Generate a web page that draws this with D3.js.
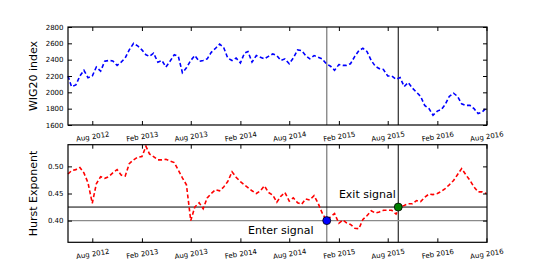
<!DOCTYPE html>
<html>
<head>
<meta charset="utf-8">
<script src="https://cdn.jsdelivr.net/npm/d3@7"></script>
<style>
  body { margin: 0; background: #fff; }
  text { font-family: "DejaVu Sans", sans-serif; }
</style>
</head>
<body>
<div id="chart"></div>
<script>
// Data (half-monthly samples)
const dates = [
  "2012-05-03","2012-05-16","2012-06-01","2012-06-16","2012-07-01","2012-07-16",
  "2012-08-01","2012-08-16","2012-09-01","2012-09-16","2012-10-01","2012-10-16",
  "2012-11-01","2012-11-16","2012-12-01","2012-12-16","2013-01-01","2013-01-16",
  "2013-02-01","2013-02-16","2013-03-01","2013-03-16","2013-04-01","2013-04-16",
  "2013-05-01","2013-05-16","2013-06-01","2013-06-16","2013-07-01","2013-07-16",
  "2013-08-01","2013-08-16","2013-09-01","2013-09-16","2013-10-01","2013-10-16",
  "2013-11-01","2013-11-16","2013-12-01","2013-12-16","2014-01-01","2014-01-16",
  "2014-02-01","2014-02-16","2014-03-01","2014-03-16","2014-04-01","2014-04-16",
  "2014-05-01","2014-05-16","2014-06-01","2014-06-16","2014-07-01","2014-07-16",
  "2014-08-01","2014-08-16","2014-09-01","2014-09-16","2014-10-01","2014-10-16",
  "2014-11-01","2014-11-16","2014-12-01","2014-12-16","2015-01-01","2015-01-16",
  "2015-02-01","2015-02-16","2015-03-01","2015-03-16","2015-04-01","2015-04-16",
  "2015-05-01","2015-05-16","2015-06-01","2015-06-16","2015-07-01","2015-07-16",
  "2015-08-01","2015-08-16","2015-09-01","2015-09-16","2015-10-01","2015-10-16",
  "2015-11-01","2015-11-16","2015-12-01","2015-12-16","2016-01-01","2016-01-16",
  "2016-02-01","2016-02-16","2016-03-01","2016-03-16","2016-04-01","2016-04-16",
  "2016-05-01","2016-05-16","2016-06-01","2016-06-16","2016-07-01","2016-07-16",
  "2016-08-01"
];

const wig20 = [
  2200, 2070, 2090, 2200, 2270, 2180,
  2200, 2310, 2260, 2380, 2390, 2385,
  2330, 2370, 2420, 2520, 2600, 2570,
  2520, 2460, 2440, 2480, 2370, 2390,
  2310, 2380, 2460, 2440, 2240, 2300,
  2390, 2450, 2380, 2390, 2410, 2490,
  2540, 2590, 2550, 2420, 2390, 2420,
  2360, 2480, 2500, 2370, 2450, 2430,
  2410, 2440, 2470, 2450, 2390, 2410,
  2350, 2420, 2520, 2510, 2450, 2410,
  2450, 2430, 2410, 2350, 2320, 2270,
  2340, 2330, 2330, 2350, 2440, 2510,
  2540, 2500, 2390, 2320, 2290, 2280,
  2200, 2200, 2160, 2180, 2070, 2120,
  2050, 2000, 1950, 1840, 1800, 1720,
  1770, 1790, 1850, 1950, 1990, 1950,
  1860, 1840, 1840, 1800, 1740, 1760,
  1810
];

const hurst = [
  0.486, 0.492, 0.494, 0.498, 0.488, 0.470,
  0.432, 0.468, 0.481, 0.478, 0.481, 0.488,
  0.494, 0.484, 0.482, 0.505, 0.512, 0.517,
  0.518, 0.537, 0.523, 0.518, 0.512, 0.512,
  0.513, 0.510, 0.507, 0.493, 0.479, 0.466,
  0.400, 0.425, 0.433, 0.422, 0.442, 0.450,
  0.457, 0.455, 0.462, 0.472, 0.490, 0.480,
  0.472, 0.466, 0.461, 0.455, 0.450, 0.455,
  0.464, 0.452, 0.447, 0.434, 0.445, 0.452,
  0.436, 0.442, 0.433, 0.430, 0.440, 0.438,
  0.446, 0.432, 0.414, 0.401, 0.407, 0.413,
  0.395, 0.401, 0.396, 0.393, 0.386, 0.385,
  0.402, 0.409, 0.418, 0.414, 0.416, 0.419,
  0.419, 0.419, 0.412, 0.426, 0.428, 0.431,
  0.431, 0.437, 0.435, 0.443, 0.449, 0.448,
  0.450, 0.454, 0.459, 0.466, 0.474, 0.485,
  0.496, 0.485, 0.474, 0.462, 0.453, 0.453,
  0.450
];

const tickDates = [
  "2012-08-01","2013-02-01","2013-08-01","2014-02-01","2014-08-01",
  "2015-02-01","2015-08-01","2016-02-01","2016-08-01"
];
const wigTicks = [1600, 1800, 2000, 2200, 2400, 2600, 2800];
const hurstTicks = [0.40, 0.45, 0.50];

const signalDates = ["2014-12-18", "2015-09-09"];
const signalLevels = [0.400, 0.425];
const signalNames = ["Enter signal", "Exit signal"];

// Layout
const width = 541, height = 271;
const left = 68, right = 487;
const topPanel = { y0: 27, y1: 125 };
const botPanel = { y0: 144.7, y1: 242.3 };

const parse = d3.timeParse("%Y-%m-%d");
const xDates = dates.map(parse);
const ticks = tickDates.map(parse);
const sigDates = signalDates.map(parse);

const svg = d3.select("#chart")
  .append("svg")
  .attr("width", width)
  .attr("height", height);

const x = d3.scaleTime()
  .domain([parse("2012-05-03"), parse("2016-08-03")])
  .range([left, right]);

const yTop = d3.scaleLinear().domain([1600, 2800]).range([topPanel.y1, topPanel.y0]);
const yBot = d3.scaleLinear().domain([0.36, 0.54]).range([botPanel.y1, botPanel.y0]);

function drawAxes(panel, y, yTicks, yFmt, label) {
  const g = svg.append("g");

  // bottom axis with labels
  const bx = g.append("g")
    .attr("transform", `translate(0,${panel.y1})`)
    .call(d3.axisBottom(x).tickValues(ticks).tickSize(-4).tickFormat(d3.timeFormat("%b %Y")));
  bx.selectAll("text")
    .attr("y", null).attr("dy", null)
    .attr("font-size", 7)
    .attr("font-family", "DejaVu Sans")
    .attr("fill", "#000")
    .attr("dominant-baseline", "central")
    .attr("transform", "translate(0,12) rotate(-9)");

  g.append("g")
    .attr("transform", `translate(0,${panel.y0})`)
    .call(d3.axisTop(x).tickValues(ticks).tickSize(-4).tickFormat(""));

  g.append("g")
    .attr("transform", `translate(${left},0)`)
    .call(d3.axisLeft(y).tickValues(yTicks).tickSize(-4).tickPadding(4.5).tickFormat(yFmt))
    .selectAll("text")
    .attr("font-size", 7)
    .attr("font-family", "DejaVu Sans")
    .attr("fill", "#000");

  g.append("g")
    .attr("transform", `translate(${right},0)`)
    .call(d3.axisRight(y).tickValues(yTicks).tickSize(-4).tickFormat(""));

  g.selectAll(".domain").remove();
  g.selectAll(".tick line").attr("stroke", "#000").attr("stroke-width", 1);

  svg.append("text")
    .attr("transform", `translate(37,${(panel.y0 + panel.y1) / 2}) rotate(-90)`)
    .attr("text-anchor", "middle")
    .attr("font-size", 11)
    .attr("fill", "#000")
    .text(label);
}

// Signal reference lines (under the data)
const vColors = ["#8a8a8a", "#000"];
const vWidths = [1.4, 1];
[topPanel, botPanel].forEach(panel => {
  sigDates.forEach((d, i) => {
    svg.append("line")
      .attr("x1", x(d)).attr("x2", x(d))
      .attr("y1", panel.y0).attr("y2", panel.y1)
      .attr("stroke", vColors[i])
      .attr("stroke-width", vWidths[i]);
  });
});
signalLevels.forEach((v, i) => {
  svg.append("line")
    .attr("x1", left).attr("x2", right)
    .attr("y1", yBot(v)).attr("y2", yBot(v))
    .attr("stroke", vColors[i])
    .attr("stroke-width", vWidths[i]);
});

// Series
const lineTop = d3.line().x((d, i) => x(xDates[i])).y(d => yTop(d));
const lineBot = d3.line().x((d, i) => x(xDates[i])).y(d => yBot(d));

svg.append("path")
  .attr("d", lineTop(wig20))
  .attr("fill", "none")
  .attr("stroke", "#0000ff")
  .attr("stroke-width", 1.6)
  .attr("stroke-dasharray", "4,2.5");

svg.append("path")
  .attr("d", lineBot(hurst))
  .attr("fill", "none")
  .attr("stroke", "#ff0000")
  .attr("stroke-width", 1.6)
  .attr("stroke-dasharray", "4,2.5");

// Signal markers
const markerColors = ["#0000ff", "#008000"];
sigDates.forEach((d, i) => {
  svg.append("circle")
    .attr("cx", x(d))
    .attr("cy", yBot(signalLevels[i]))
    .attr("r", 4)
    .attr("fill", markerColors[i])
    .attr("stroke", "#000")
    .attr("stroke-width", 0.8);
});

// Signal labels
svg.append("text")
  .attr("x", x(parse("2014-03-01")))
  .attr("y", yBot(0.3756))
  .attr("font-size", 11)
  .attr("fill", "#000")
  .text(signalNames[0]);

svg.append("text")
  .attr("x", x(parse("2015-02-01")))
  .attr("y", yBot(0.4408))
  .attr("font-size", 11)
  .attr("fill", "#000")
  .text(signalNames[1]);

// Frames and axes
[topPanel, botPanel].forEach(panel => {
  svg.append("rect")
    .attr("x", left).attr("y", panel.y0)
    .attr("width", right - left).attr("height", panel.y1 - panel.y0)
    .attr("fill", "none")
    .attr("stroke", "#000")
    .attr("stroke-width", 1.2);
});

drawAxes(topPanel, yTop, wigTicks, d3.format("d"), "WIG20 index");
drawAxes(botPanel, yBot, hurstTicks, d3.format(".2f"), "Hurst Exponent");
</script>
</body>
</html>
